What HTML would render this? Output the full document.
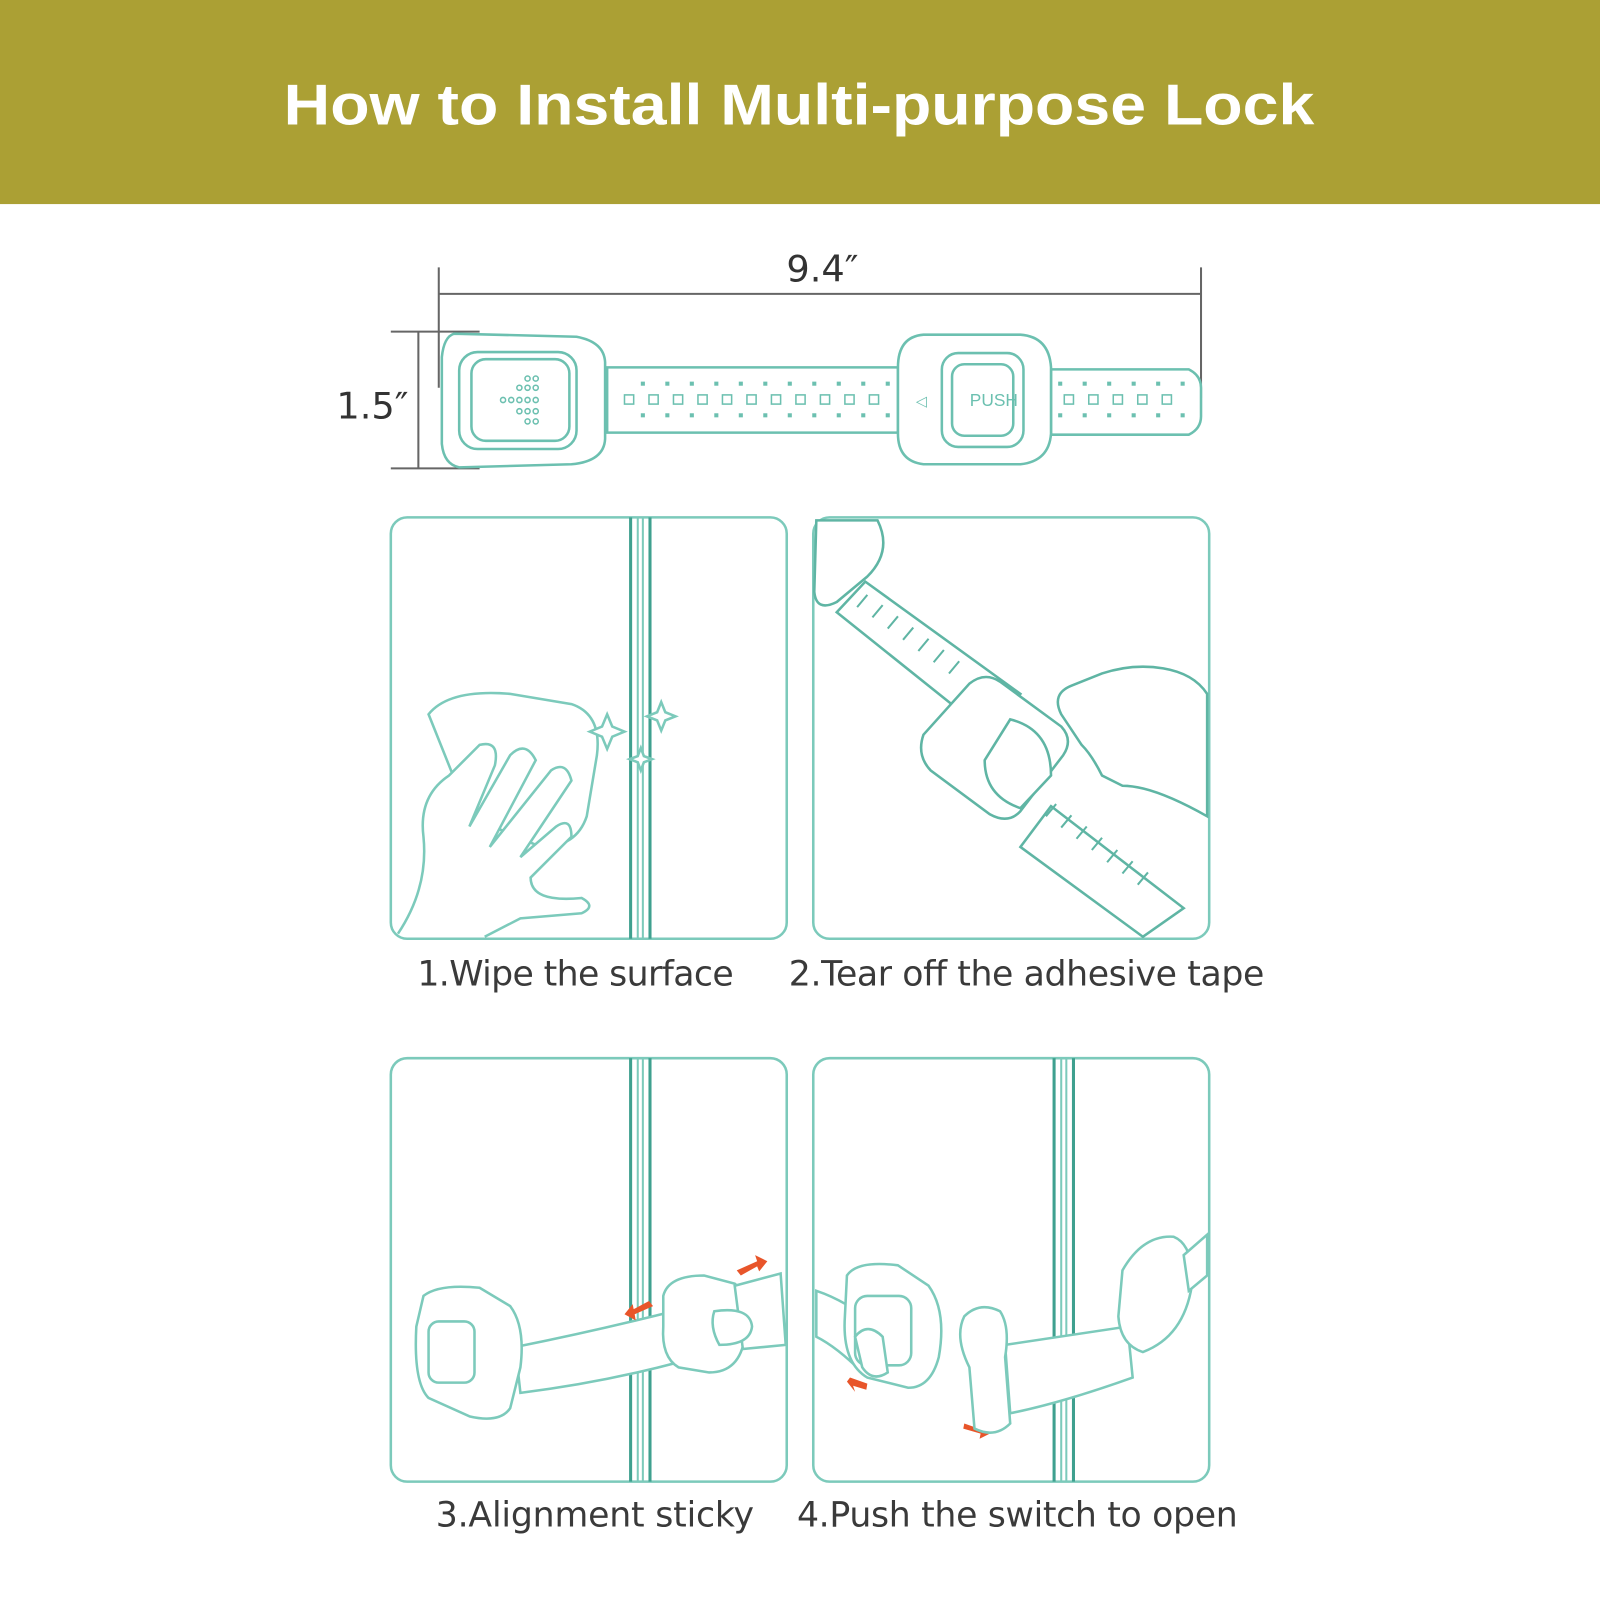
<!DOCTYPE html>
<html><head><meta charset="utf-8"><style>
html,body{margin:0;padding:0;background:#fff;}
svg{display:block}
</style></head><body>
<svg width="1600" height="1600" viewBox="0 0 1568 1568" xmlns="http://www.w3.org/2000/svg">
<rect x="0" y="0" width="1568" height="200" fill="#aba034"/>
<text x="783" y="122" text-anchor="middle" font-family="Liberation Sans, sans-serif" font-weight="bold" font-size="56" fill="#fff" textLength="1010" lengthAdjust="spacingAndGlyphs">How to Install Multi-purpose Lock</text>

<g stroke="#666" stroke-width="2" fill="none">
<line x1="430" y1="262" x2="430" y2="380"/>
<line x1="1177" y1="262" x2="1177" y2="390"/>
<line x1="430" y1="288" x2="1177" y2="288"/>
<line x1="383" y1="325" x2="470" y2="325"/>
<line x1="383" y1="459" x2="470" y2="459"/>
<line x1="410" y1="325" x2="410" y2="459"/>
</g>
<text x="806" y="276" text-anchor="middle" font-family="DejaVu Sans, sans-serif" font-size="36" fill="#333">9.4″</text>
<text x="365" y="410" text-anchor="middle" font-family="DejaVu Sans, sans-serif" font-size="36" fill="#333">1.5″</text>

<g stroke="#6cc0b0" stroke-width="2.5" fill="#fff">
<path d="M595 360 H880 V424 H595 Z"/>
<path d="M1030 362 H1165 Q1177 368 1177 380 V408 Q1177 420 1165 426 H1030 Z"/>
<path d="M445 327 Q435 330 433 350 V435 Q435 455 450 458 L560 455 Q592 452 593 430 V355 Q592 335 565 330 Z"/>
<rect x="450" y="345" width="115" height="95" rx="18"/>
<rect x="462" y="352" width="96" height="80" rx="14"/>
<path d="M905 328 H1000 Q1028 330 1030 360 V425 Q1028 452 1000 455 H905 Q880 452 880 425 V360 Q880 330 905 328 Z"/>
<rect x="923" y="346" width="80" height="92" rx="16"/>
<rect x="933" y="357" width="60" height="70" rx="12"/>
</g>
<text x="974" y="398" text-anchor="middle" font-family="Liberation Sans, sans-serif" font-size="17" fill="#6cc0b0">PUSH</text>
<text x="903" y="398" text-anchor="middle" font-family="Liberation Sans, sans-serif" font-size="14" fill="#6cc0b0">◁</text>
<g fill="none" stroke="#6cc0b0" stroke-width="1.5">
<rect x="612" y="387" width="9" height="9"/><rect x="636" y="387" width="9" height="9"/><rect x="660" y="387" width="9" height="9"/><rect x="684" y="387" width="9" height="9"/><rect x="708" y="387" width="9" height="9"/><rect x="732" y="387" width="9" height="9"/><rect x="756" y="387" width="9" height="9"/><rect x="780" y="387" width="9" height="9"/><rect x="804" y="387" width="9" height="9"/><rect x="828" y="387" width="9" height="9"/><rect x="852" y="387" width="9" height="9"/>
<rect x="1043" y="387" width="9" height="9"/><rect x="1067" y="387" width="9" height="9"/><rect x="1091" y="387" width="9" height="9"/><rect x="1115" y="387" width="9" height="9"/><rect x="1139" y="387" width="9" height="9"/>
</g>
<g fill="#6cc0b0">
<rect x="628" y="374" width="4" height="4"/><rect x="652" y="374" width="4" height="4"/><rect x="676" y="374" width="4" height="4"/><rect x="700" y="374" width="4" height="4"/><rect x="724" y="374" width="4" height="4"/><rect x="748" y="374" width="4" height="4"/><rect x="772" y="374" width="4" height="4"/><rect x="796" y="374" width="4" height="4"/><rect x="820" y="374" width="4" height="4"/><rect x="844" y="374" width="4" height="4"/><rect x="868" y="374" width="4" height="4"/>
<rect x="628" y="405" width="4" height="4"/><rect x="652" y="405" width="4" height="4"/><rect x="676" y="405" width="4" height="4"/><rect x="700" y="405" width="4" height="4"/><rect x="724" y="405" width="4" height="4"/><rect x="748" y="405" width="4" height="4"/><rect x="772" y="405" width="4" height="4"/><rect x="796" y="405" width="4" height="4"/><rect x="820" y="405" width="4" height="4"/><rect x="844" y="405" width="4" height="4"/><rect x="868" y="405" width="4" height="4"/>
<rect x="1037" y="374" width="4" height="4"/><rect x="1061" y="374" width="4" height="4"/><rect x="1085" y="374" width="4" height="4"/><rect x="1109" y="374" width="4" height="4"/><rect x="1133" y="374" width="4" height="4"/><rect x="1157" y="374" width="4" height="4"/>
<rect x="1037" y="405" width="4" height="4"/><rect x="1061" y="405" width="4" height="4"/><rect x="1085" y="405" width="4" height="4"/><rect x="1109" y="405" width="4" height="4"/><rect x="1133" y="405" width="4" height="4"/><rect x="1157" y="405" width="4" height="4"/>
</g>
<g fill="none" stroke="#6cc0b0" stroke-width="1.5">
<circle cx="517" cy="371" r="2.5"/><circle cx="525" cy="371" r="2.5"/>
<circle cx="509" cy="380" r="2.5"/><circle cx="517" cy="380" r="2.5"/><circle cx="525" cy="380" r="2.5"/>
<circle cx="493" cy="392" r="2.5"/><circle cx="501" cy="392" r="2.5"/><circle cx="509" cy="392" r="2.5"/><circle cx="517" cy="392" r="2.5"/><circle cx="525" cy="392" r="2.5"/>
<circle cx="509" cy="403" r="2.5"/><circle cx="517" cy="403" r="2.5"/><circle cx="525" cy="403" r="2.5"/>
<circle cx="517" cy="413" r="2.5"/><circle cx="525" cy="413" r="2.5"/>
</g>

<g fill="none" stroke="#7ccabb" stroke-width="2.5">
<rect x="383" y="507" width="388" height="413" rx="16"/>
<rect x="797" y="507" width="388" height="413" rx="16"/>
<rect x="383" y="1037" width="388" height="415" rx="16"/>
<rect x="797" y="1037" width="388" height="415" rx="16"/>
</g>
<g stroke="#3fa08f" stroke-width="3">
<line x1="618" y1="507" x2="618" y2="920"/><line x1="637" y1="507" x2="637" y2="920"/>
<line x1="618" y1="1037" x2="618" y2="1452"/><line x1="637" y1="1037" x2="637" y2="1452"/>
<line x1="1033" y1="1037" x2="1033" y2="1452"/><line x1="1052" y1="1037" x2="1052" y2="1452"/>
</g>
<g stroke="#7ccabb" stroke-width="2">
<line x1="625" y1="507" x2="625" y2="920"/><line x1="630" y1="507" x2="630" y2="920"/>
<line x1="625" y1="1037" x2="625" y2="1452"/><line x1="630" y1="1037" x2="630" y2="1452"/>
<line x1="1040" y1="1037" x2="1040" y2="1452"/><line x1="1045" y1="1037" x2="1045" y2="1452"/>
</g>

<g fill="#fff" stroke="#7ccabb" stroke-width="2.5">
<path d="M420 700 Q440 675 500 680 L560 690 Q590 700 585 740 L575 800 Q565 830 530 830 L460 800 Z"/>
<path d="M390 915 Q420 870 415 820 Q410 780 440 760 L470 730 Q490 725 485 750 L460 810 L500 740 Q515 725 525 745 L480 830 L540 755 Q555 745 560 765 L510 840 L545 810 Q560 800 560 820 L520 860 Q520 885 570 880 Q585 888 570 895 L510 900 L475 918"/>
<path d="M595 700 l5 12 12 5 -12 5 -5 12 -5 -12 -12 -5 12 -5z"/>
<path d="M648 688 l4 10 10 4 -10 4 -4 10 -4 -10 -10 -4 10 -4z"/>
<path d="M628 733 l3 8 8 3 -8 3 -3 8 -3 -8 -8 -3 8 -3z"/>
</g>

<g fill="#fff" stroke="#5fb5a4" stroke-width="2.5">
<path d="M820 600 L848 570 L1000 680 L970 720 Z"/>
<path d="M1030 790 L1000 830 L1120 918 L1160 890 Z"/>
<path d="M800 510 L860 510 Q875 540 850 565 L820 590 Q800 600 798 580 Z"/>
<path d="M905 720 L950 670 Q965 658 980 668 L1040 712 Q1052 725 1042 740 L1000 795 Q988 808 970 798 L912 755 Q898 740 905 720 Z"/>
<path d="M965 745 L990 705 Q1030 715 1030 760 L1000 792 Q965 780 965 745 Z"/>
<path d="M1040 700 Q1030 680 1050 672 L1080 660 Q1110 650 1140 655 Q1170 660 1183 680 L1183 800 Q1130 770 1100 770 L1080 760 Q1070 740 1060 730 Z"/>
</g>
<g fill="none" stroke="#5fb5a4" stroke-width="2">
<path d="M840 595 l10 -12 M855 605 l10 -12 M870 616 l10 -12 M885 627 l10 -12 M900 638 l10 -12 M915 649 l10 -12 M930 660 l10 -12"/>
<path d="M1025 800 l10 -12 M1040 811 l10 -12 M1055 822 l10 -12 M1070 833 l10 -12 M1085 845 l10 -12 M1100 856 l10 -12 M1115 867 l10 -12"/>
</g>

<g fill="#fff" stroke="#7ccabb" stroke-width="2.5">
<path d="M505 1320 Q580 1305 660 1285 L665 1335 Q590 1355 510 1365 Z"/>
<path d="M415 1270 Q430 1258 470 1262 L500 1280 Q515 1300 510 1340 L500 1380 Q490 1395 460 1388 L420 1370 Q405 1355 408 1300 Z"/>
<rect x="420" y="1295" width="45" height="60" rx="10"/>
<path d="M650 1270 Q655 1250 690 1250 L720 1258 Q735 1270 730 1310 Q725 1345 695 1345 L665 1340 Q648 1330 650 1300 Z"/>
<path d="M720 1260 L765 1248 L770 1318 L728 1322 Z"/>
<path d="M700 1285 Q735 1280 737 1300 Q735 1318 705 1318 Q695 1300 700 1285 Z"/>
</g>
<g fill="#e8552a">
<path d="M722 1245 L742 1236 L740 1230 L752 1236 L744 1246 L742 1241 L726 1250 Z"/>
<path d="M612 1290 L630 1282 L629 1276 L640 1282 L632 1292 L631 1287 L616 1295 Z" transform="rotate(180 626 1285)"/>
<path d="M833 1350 L850 1356 L849 1362 L836 1358 L838 1364 L830 1354 Z"/>
<path d="M945 1395 L962 1401 L963 1395 L972 1404 L960 1410 L961 1405 L944 1400 Z"/>
</g>

<g fill="#fff" stroke="#7ccabb" stroke-width="2.5">
<path d="M800 1265 Q830 1275 860 1300 L845 1345 Q820 1320 800 1310 Z"/>
<path d="M830 1250 Q840 1235 880 1240 L910 1260 Q928 1285 920 1330 Q912 1360 890 1360 L850 1350 Q825 1335 828 1290 Z"/>
<rect x="838" y="1270" width="55" height="68" rx="12"/>
<path d="M985 1318 Q1040 1310 1105 1300 L1110 1350 Q1040 1375 990 1385 Z"/>
<path d="M945 1290 Q960 1275 980 1285 Q990 1300 985 1330 L990 1395 Q975 1410 955 1400 L950 1340 Q935 1310 945 1290 Z"/>
<path d="M1100 1245 Q1120 1210 1150 1212 Q1170 1220 1168 1260 Q1160 1310 1120 1325 Q1098 1318 1096 1290 Z"/>
<path d="M1160 1230 L1183 1210 L1183 1250 L1165 1265 Z"/>
<path d="M838 1310 Q850 1295 865 1310 L870 1345 Q855 1355 845 1340 Z"/>
</g>

<g font-family="DejaVu Sans, Liberation Sans, sans-serif" font-size="34" fill="#3a3a3a">
<text x="564" y="966" text-anchor="middle" textLength="310">1.Wipe the surface</text>
<text x="1006" y="966" text-anchor="middle" textLength="466">2.Tear off the adhesive tape</text>
<text x="583" y="1496" text-anchor="middle" textLength="312">3.Alignment sticky</text>
<text x="997" y="1496" text-anchor="middle" textLength="432">4.Push the switch to open</text>
</g>
</svg>
</body></html>
